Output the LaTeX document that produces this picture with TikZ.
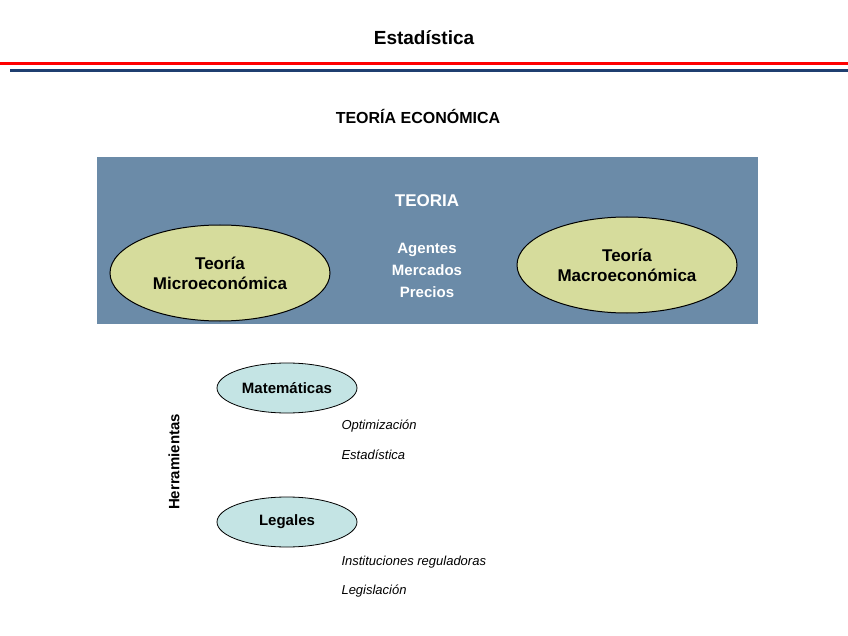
\documentclass[tikz,border=0pt]{standalone}
\usepackage{fontspec}
\setmainfont{Liberation Sans}
\usetikzlibrary{shapes.geometric}
\definecolor{boxblue}{HTML}{6B8BA8}
\definecolor{olive}{HTML}{D6DC9C}
\definecolor{cyanl}{HTML}{C4E4E4}
\definecolor{navy}{HTML}{1F3F70}
\tikzset{
 bigell/.style={ellipse,draw=black,line width=1pt,fill=olive,minimum width=220pt,minimum height=96pt,inner sep=0pt,align=center,font=\fontsize{17}{20}\selectfont\bfseries},
 smell/.style={ellipse,draw=black,line width=0.8pt,fill=cyanl,minimum width=140pt,minimum height=50pt,inner sep=0pt,font=\fontsize{15}{18}\selectfont\bfseries},
 note/.style={anchor=west,font=\fontsize{13}{16}\selectfont\itshape}
}
\begin{document}
\begin{tikzpicture}[x=1pt,y=-1pt]
\useasboundingbox (0,0) rectangle (848,636);
\node[font=\fontsize{19}{22}\selectfont\bfseries] (title) at (424,38) {Estadística};
\draw[red,line width=3pt] (0,64) -- (848,64);
\draw[navy,line width=3pt] (10,71) -- (848,71);
\node[font=\fontsize{16}{19}\selectfont\bfseries] (te) at (418,116) {TEORÍA ECONÓMICA};
\fill[boxblue] (97,157) rectangle (758,324);
\node[white,font=\fontsize{17}{20}\selectfont\bfseries] (teoria) at (427,201) {TEORIA};
\node[white,align=center,font=\fontsize{15}{22}\selectfont\bfseries] (amp) at (427,270) {Agentes\\Mercados\\Precios};
\node[bigell] (micro) at (220,273) {Teoría\\Microeconómica};
\node[bigell] (macro) at (627,265) {Teoría\\Macroeconómica};
\node[smell] (mat) at (287,388) {Matemáticas};
\node[smell] (leg) at (287,522) {Legales};
\node[rotate=90,font=\fontsize{15}{18}\selectfont\bfseries] (herr) at (174,462) {Herramientas};
\node[note] (o) at (338,426) {Optimización};
\node[note] (e) at (338,455) {Estadística};
\node[note] (i) at (338,562) {Instituciones reguladoras};
\node[note] (l) at (338,591) {Legislación};
\end{tikzpicture}
\end{document}
